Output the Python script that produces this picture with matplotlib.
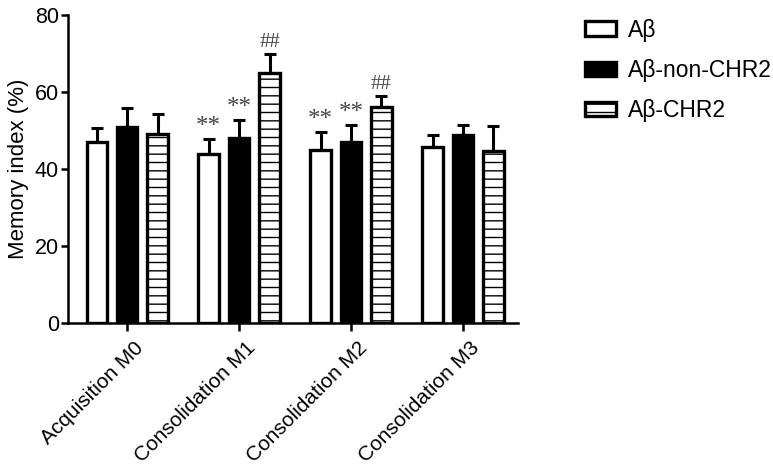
import matplotlib
matplotlib.use("Agg")
import matplotlib.pyplot as plt
import matplotlib.transforms as mtransforms
import numpy as np

categories = ["Acquisition M0", "Consolidation M1", "Consolidation M2", "Consolidation M3"]
series_names = ["Aβ", "Aβ-non-CHR2", "Aβ-CHR2"]
ab_mean = [47, 44, 45, 45.6]
ab_err = [3.6, 3.8, 4.5, 3.3]
nonchr2_mean = [51, 48, 47, 48.8]
nonchr2_err = [4.8, 4.7, 4.4, 2.7]
chr2_mean = [49, 65, 56, 44.8]
chr2_err = [5.3, 5.0, 3.1, 6.4]
marks_ab = ["", "**", "**", ""]
marks_non = ["", "**", "**", ""]
marks_chr2 = ["", "##", "##", ""]
yticks = [0, 20, 40, 60, 80]

plt.rcParams['font.family'] = ['Liberation Sans', 'DejaVu Sans']
plt.rcParams['hatch.linewidth'] = 1.0
plt.rcParams['hatch.color'] = '#666666'

fig = plt.figure(figsize=(7.73, 4.72), dpi=100)
ax = fig.add_axes([0.088, 0.316, 0.582, 0.652])

x = np.arange(len(categories))
off = 0.272
w = 0.18
styles = [dict(facecolor='white', hatch=None),
          dict(facecolor='black', hatch=None),
          dict(facecolor='white', hatch='--')]
means = [ab_mean, nonchr2_mean, chr2_mean]
errs = [ab_err, nonchr2_err, chr2_err]
marks = [marks_ab, marks_non, marks_chr2]
handles = []
for i in range(3):
    pos = x + (i - 1) * off
    bars = ax.bar(pos, means[i], width=w, facecolor=styles[i]['facecolor'],
                  edgecolor='black', linewidth=2.4, hatch=styles[i]['hatch'],
                  label=series_names[i], zorder=2)
    handles.append(bars)
    ax.errorbar(pos, means[i], yerr=[np.zeros(4), errs[i]], fmt='none',
                ecolor='black', elinewidth=2.2, capsize=4, capthick=2.2, zorder=1)
    for p, m, e, t in zip(pos, means[i], errs[i], marks[i]):
        if t:
            ax.text(p, m + e + 0.3, t, ha='center', va='bottom',
                    fontsize=18 if t == "**" else 15, color='#444444',
                    family=['Liberation Serif', 'DejaVu Serif'])

ax.set_ylim(0, 80)
ax.set_xlim(-0.527, 3.49)
ax.set_yticks(yticks)
ax.set_xticks(x)
ax.tick_params(axis='y', labelsize=15.5, width=1.8, length=5, pad=1.5)
ax.tick_params(axis='x', width=1.8, length=6, pad=10)
ax.set_xticklabels(categories, rotation=45, ha='right', va='center',
                   rotation_mode='anchor', fontsize=15)
shift = mtransforms.ScaledTranslation(0.13, 0.0, fig.dpi_scale_trans)
for lab in ax.get_xticklabels():
    lab.set_transform(lab.get_transform() + shift)
ax.set_ylabel("Memory index (%)", fontsize=16, labelpad=4)
for s in ['top', 'right']:
    ax.spines[s].set_visible(False)
for s in ['left', 'bottom']:
    ax.spines[s].set_linewidth(1.8)

leg = fig.legend(handles=handles, labels=series_names, loc='upper left',
                 bbox_to_anchor=(0.748, 0.975), frameon=False, fontsize=16.5,
                 handlelength=1.35, handleheight=0.6, labelspacing=0.75,
                 handletextpad=0.5, borderaxespad=0, borderpad=0.3)

fig.savefig("out.png", dpi=100)
